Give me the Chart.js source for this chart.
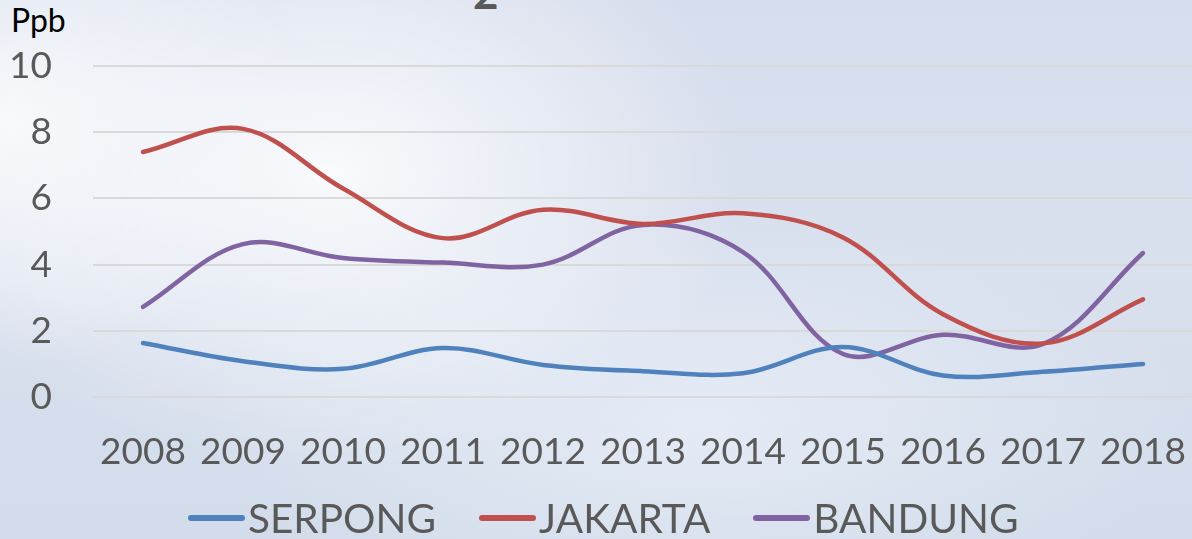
<!DOCTYPE html>
<html>
<head>
<meta charset="utf-8">
<script src="https://cdn.jsdelivr.net/npm/chart.js@4/dist/chart.umd.min.js"></script>
<style>
  html, body { margin: 0; padding: 0; width: 1192px; height: 539px; overflow: hidden; }
  body {
    position: relative;
    background:
      radial-gradient(ellipse 420px 300px at 330px 170px, rgba(255,255,255,0.85), rgba(255,255,255,0) 100%),
      radial-gradient(ellipse 300px 250px at 0px 120px, rgba(255,255,255,0.8), rgba(255,255,255,0) 100%),
      radial-gradient(ellipse 500px 200px at 700px 420px, rgba(235,241,250,0.7), rgba(235,241,250,0) 100%),
      linear-gradient(180deg, #d6ddec 0%, #d9e0ee 50%, #d2dcea 100%);
    font-family: Lato, "Open Sans", sans-serif;
  }
  #wrap { position: absolute; left: 0; top: 0; width: 1200px; height: 539px; }
  #ppb { position: absolute; left: 11px; top: 0px; font-size: 32px; color: #000; font-family: Lato, sans-serif; }
  #ttl { position: absolute; left: 473px; top: -34px; font-size: 44px; font-weight: bold; color: #595959; font-family: Lato, sans-serif; }
  #legend { position: absolute; left: 188px; top: 493px; height: 50px; display: flex; align-items: center; white-space: nowrap; }
  .item { display: flex; align-items: center; margin-right: 43px; }
  .swatch { width: 57px; height: 6px; border-radius: 3px; margin-right: 3px; }
  .lbl { font-size: 40.5px; color: #595959; font-family: Lato, sans-serif; line-height: 50px; }
</style>
</head>
<body>
<div id="ttl">2</div>
<div id="ppb">Ppb</div>
<div id="wrap"><canvas id="c"></canvas></div>
<div id="legend"></div>
<script>
const categories = ["2008","2009","2010","2011","2012","2013","2014","2015","2016","2017","2018"];
const serpong = [1.63, 1.08, 0.85, 1.48, 0.97, 0.78, 0.72, 1.51, 0.65, 0.76, 1.0];
const jakarta = [7.4, 8.1, 6.3, 4.8, 5.66, 5.23, 5.55, 4.82, 2.5, 1.62, 2.95];
const bandung = [2.72, 4.62, 4.2, 4.06, 4.0, 5.2, 4.38, 1.3, 1.88, 1.6, 4.35];
const yTicks = [0, 2, 4, 6, 8, 10];

const font = "Lato, 'Open Sans', sans-serif";
function ds(label, data, color) {
  return { label, data, borderColor: color, backgroundColor: color, borderWidth: 4.5,
           pointRadius: 0, tension: 0.36, borderCapStyle: 'round', fill: false };
}

const chart = new Chart(document.getElementById('c'), {
  type: 'line',
  data: {
    labels: categories,
    datasets: [
      ds('SERPONG', serpong, '#4f81bd'),
      ds('JAKARTA', jakarta, '#c0504d'),
      ds('BANDUNG', bandung, '#8064a2')
    ]
  },
  options: {
    responsive: true,
    maintainAspectRatio: false,
    animation: false,
    layout: { padding: { top: 66, left: 0, right: 7, bottom: 48 } },
    plugins: {
      title: { display: false },
      tooltip: { enabled: false },
      legend: { display: false }
    },
    scales: {
      x: {
        offset: true,
        grid: { display: false, drawTicks: false },
        border: { display: false },
        ticks: { color: '#595959', font: { family: font, size: 37 }, padding: 33, maxRotation: 0, autoSkip: false },
        afterFit(scale) { scale.height = 94; scale.paddingLeft = 0; scale.paddingRight = 0; }
      },
      y: {
        min: 0, max: 10,
        afterBuildTicks(scale) { scale.ticks = yTicks.map(v => ({ value: v })); },
        grid: { color: '#d9d9d9', lineWidth: 2, drawTicks: false },
        border: { display: false },
        ticks: { color: '#595959', font: { family: font, size: 37 }, padding: 41 },
        afterFit(scale) { scale.width = 93; }
      }
    }
  }
});

const legend = document.getElementById('legend');
chart.data.datasets.forEach(d => {
  const item = document.createElement('div');
  item.className = 'item';
  const sw = document.createElement('div');
  sw.className = 'swatch';
  sw.style.background = d.borderColor;
  const t = document.createElement('span');
  t.className = 'lbl';
  t.textContent = d.label;
  item.appendChild(sw); item.appendChild(t);
  legend.appendChild(item);
});
</script>
</body>
</html>
